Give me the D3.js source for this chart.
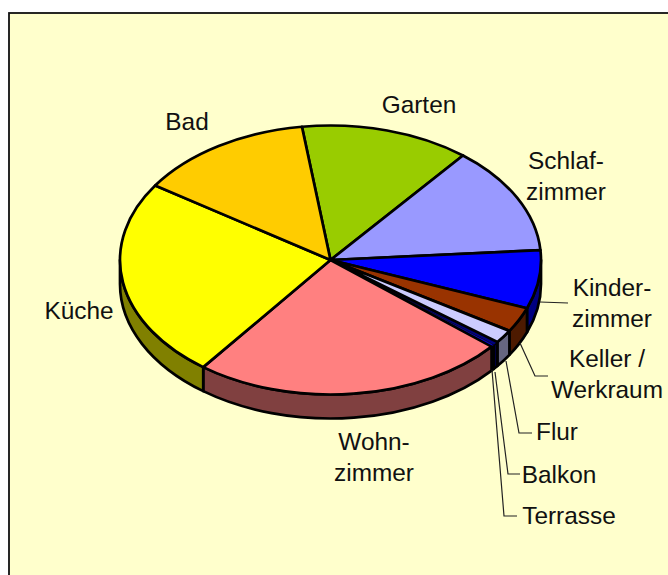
<!DOCTYPE html>
<html>
<head>
    <meta charset="utf-8">
    <script src="https://d3js.org/d3.v7.min.js"></script>
    <style>
        html, body { margin: 0; padding: 0; background: #fff; }
        svg { display: block; }
        text { font-family: "Liberation Sans", Arial, sans-serif; font-size: 24.4px; fill: #111; }
    </style>
</head>
<body>
    <div id="chart"></div>

    <script>
        // data, clockwise from the Garten slice
        const rooms = ['Garten', 'Schlafzimmer', 'Kinderzimmer', 'Keller / Werkraum', 'Flur', 'Balkon', 'Terrasse', 'Wohnzimmer', 'Küche', 'Bad'];
        const shares = [13, 13, 7, 3, 1.6, 0.45, 0.25, 24.2, 24, 13.5];
        const topColors = ['#99cc00', '#9999ff', '#0000ff', '#993300', '#ccccff', '#000080', '#0000ff', '#ff8080', '#ffff00', '#ffcc00'];
        const sideColors = ['#4d6600', '#4d4d80', '#000080', '#4d1a00', '#666680', '#000040', '#000080', '#804040', '#808000', '#806600'];

        // label lines, one array per room
        const labelLines = [['Garten'], ['Schlaf-', 'zimmer'], ['Kinder-', 'zimmer'], ['Keller /', 'Werkraum'], ['Flur'], ['Balkon'], ['Terrasse'], ['Wohn-', 'zimmer'], ['Küche'], ['Bad']];
        const labelX = [419, 566, 612, 607, 557, 559, 569, 374, 79, 187];
        const labelY = [113, 169, 296, 367, 440, 483, 524, 450, 319, 130];

        // leader lines
        const leaders = [
            [[540, 302], [568, 303]],
            [[520, 343], [535, 376], [548, 376]],
            [[506, 361], [519, 433], [532, 433]],
            [[495, 372], [508, 474], [520, 474]],
            [[492, 370], [504, 516], [517, 516]]
        ];

        const width = 668;
        const height = 575;
        const cx = 330.5, cy = 260, rx = 210.5, ry = 134.5, depth = 24;
        const squash = ry / rx;
        const startAngle = -7.8 * Math.PI / 180;

        const svg = d3.select('#chart').append('svg')
            .attr('width', width)
            .attr('height', height);

        svg.append('rect')
            .attr('x', 9).attr('y', 13)
            .attr('width', width).attr('height', height)
            .attr('fill', '#ffffcc')
            .attr('stroke', '#111')
            .attr('stroke-width', 1.8);

        const arcs = d3.pie().sort(null).startAngle(startAngle).endAngle(startAngle + 2 * Math.PI)(shares);

        const pie = svg.append('g').attr('transform', `translate(${cx},${cy}) scale(1,${squash})`);

        // side wall, only the part that faces the viewer (90..270 deg clockwise from top)
        function wallPath(a0, a1) {
            const p = d3.path();
            const d = depth / squash;
            p.arc(0, 0, rx, a0 - Math.PI / 2, a1 - Math.PI / 2);
            p.arc(0, d, rx, a1 - Math.PI / 2, a0 - Math.PI / 2, true);
            p.closePath();
            return p.toString();
        }

        const visible = arcs
            .map((d, i) => ({i, a0: Math.max(d.startAngle, Math.PI / 2), a1: Math.min(d.endAngle, 3 * Math.PI / 2)}))
            .filter(d => d.a1 > d.a0);

        pie.selectAll('path.wall')
            .data(visible)
            .enter().append('path')
            .attr('class', 'wall')
            .attr('d', d => wallPath(d.a0, d.a1))
            .attr('fill', d => sideColors[d.i])
            .attr('stroke', '#000')
            .attr('stroke-width', 2.7)
            .attr('stroke-linejoin', 'round')
            .attr('vector-effect', 'non-scaling-stroke');

        const arc = d3.arc().innerRadius(0).outerRadius(rx);

        // very thin slices get a thin outline and go underneath, or they would be all black
        pie.selectAll('path.slice')
            .data(arcs)
            .enter().append('path')
            .attr('class', 'slice')
            .attr('d', arc)
            .attr('fill', (d, i) => topColors[i])
            .attr('stroke', '#000')
            .attr('stroke-width', d => d.value < 1 ? 0.6 : 2.7)
            .attr('stroke-linejoin', 'round')
            .attr('vector-effect', 'non-scaling-stroke')
            .filter(d => d.value >= 1)
            .raise();

        // leader lines
        svg.selectAll('path.leader')
            .data(leaders)
            .enter().append('path')
            .attr('class', 'leader')
            .attr('d', d3.line())
            .attr('fill', 'none')
            .attr('stroke', '#222')
            .attr('stroke-width', 1.2);

        // labels
        const labels = svg.selectAll('text.label')
            .data(rooms)
            .enter().append('text')
            .attr('class', 'label')
            .attr('text-anchor', 'middle')
            .attr('y', (d, i) => labelY[i]);

        labels.selectAll('tspan')
            .data((d, i) => labelLines[i].map(t => ({t, i})))
            .enter().append('tspan')
            .attr('x', d => labelX[d.i])
            .attr('dy', (d, j) => j ? 31 : 0)
            .text(d => d.t);
    </script>
</body>
</html>
